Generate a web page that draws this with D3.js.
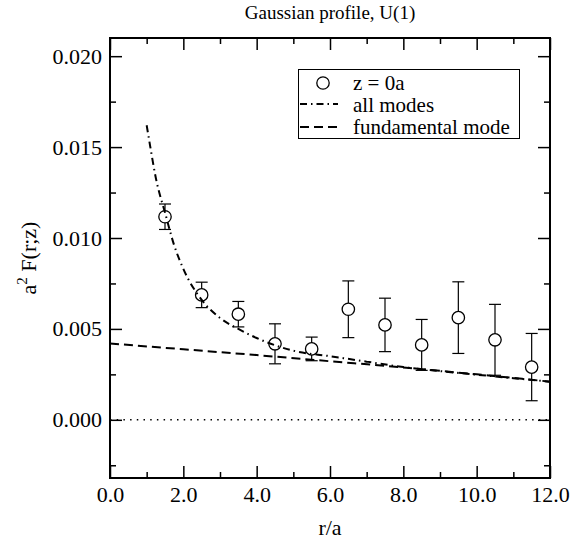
<!DOCTYPE html>
<html>
<head>
<meta charset="utf-8">
<script src="https://cdn.jsdelivr.net/npm/d3@7"></script>
<style>
  body { margin: 0; background: #fff; }
  text { font-family: "Liberation Serif", "Times New Roman", serif; fill: #000; }
</style>
</head>
<body>
<div id="chart"></div>
<script>
// Data
var rValues = [1.5, 2.5, 3.5, 4.5, 5.5, 6.5, 7.5, 8.5, 9.5, 10.5, 11.5];
var fValues = [0.01117, 0.00687, 0.00581, 0.00418, 0.0039, 0.00608, 0.00522, 0.00412, 0.00562, 0.0044, 0.0029];
var fErrors = [0.0007, 0.0007, 0.0007, 0.0011, 0.00065, 0.00156, 0.00147, 0.0014, 0.00197, 0.00195, 0.00185];

// "all modes" curve
var allR = [1.0, 1.1, 1.25, 1.5, 1.75, 2.0, 2.5, 3.0, 3.5, 4.0, 4.5, 5.0, 6.0, 7.0, 8.0, 9.0, 10.0, 11.0, 12.0];
var allF = [0.0162, 0.0150, 0.0133, 0.0114, 0.0096, 0.0083, 0.0066, 0.0056, 0.0050, 0.0045, 0.0041, 0.0038, 0.0035, 0.0032, 0.0029, 0.00268, 0.00248, 0.00229, 0.0021];

// "fundamental mode" curve
var fundR = [0, 2, 4, 6, 8, 10, 12];
var fundF = [0.0042, 0.00388, 0.00356, 0.00322, 0.00288, 0.0025, 0.0021];

var xMajor = [0, 2, 4, 6, 8, 10, 12];
var xMinor = [1, 3, 5, 7, 9, 11];
var yMajor = [0, 0.005, 0.010, 0.015, 0.020];
var yMinor = [-0.0025, 0.0025, 0.0075, 0.0125, 0.0175];

var W = 575, H = 541;
var pLeft = 110, pRight = 550, pTop = 38, pBottom = 478;

var svg = d3.select("#chart")
  .append("svg")
    .attr("width", W)
    .attr("height", H);

var x = d3.scaleLinear().domain([0, 12]).range([pLeft, pRight]);
var y = d3.scaleLinear().domain([-0.0032, 0.021]).range([pBottom, pTop]);

// ticks on all four sides, pointing inward
function tickAxis(axis, vals, size, pos, labels, fmt) {
  var g = svg.append("g")
    .attr("transform", pos)
    .call(axis.tickValues(vals).tickSizeInner(-size).tickSizeOuter(0).tickPadding(8)
      .tickFormat(labels ? d3.format(fmt) : ""));
  g.select(".domain").remove();
  g.selectAll(".tick line").attr("stroke", "#000").attr("stroke-width", 1.5);
  g.selectAll("text").attr("font-size", "22px").attr("font-family", "Liberation Serif, serif");
  return g;
}

tickAxis(d3.axisBottom(x), xMajor, 12, "translate(0," + pBottom + ")", true, ".1f");
tickAxis(d3.axisBottom(x), xMinor, 6, "translate(0," + pBottom + ")", false);
tickAxis(d3.axisTop(x), xMajor, 12, "translate(0," + pTop + ")", false);
tickAxis(d3.axisTop(x), xMinor, 6, "translate(0," + pTop + ")", false);
tickAxis(d3.axisLeft(y), yMajor, 12, "translate(" + pLeft + ",0)", true, ".3f");
tickAxis(d3.axisLeft(y), yMinor, 6, "translate(" + pLeft + ",0)", false);
tickAxis(d3.axisRight(y), yMajor, 12, "translate(" + pRight + ",0)", false);
tickAxis(d3.axisRight(y), yMinor, 6, "translate(" + pRight + ",0)", false);

// frame
svg.append("rect")
  .attr("x", pLeft).attr("y", pTop)
  .attr("width", pRight - pLeft).attr("height", pBottom - pTop)
  .attr("fill", "none")
  .attr("stroke", "#000")
  .attr("stroke-width", 2);

// zero line (dotted)
svg.append("line")
  .attr("x1", x(0)).attr("x2", x(12))
  .attr("y1", y(0)).attr("y2", y(0))
  .attr("stroke", "#000")
  .attr("stroke-width", 1.5)
  .attr("stroke-dasharray", "1.5,5.2");

// error bars
var pts = rValues.map(function(r, i) { return { r: r, f: fValues[i], e: fErrors[i] }; });
var eb = svg.append("g").attr("stroke", "#000").attr("stroke-width", 1.2);
pts.forEach(function(d) {
  eb.append("line").attr("x1", x(d.r)).attr("x2", x(d.r)).attr("y1", y(d.f - d.e)).attr("y2", y(d.f + d.e));
  eb.append("line").attr("x1", x(d.r) - 6).attr("x2", x(d.r) + 6).attr("y1", y(d.f - d.e)).attr("y2", y(d.f - d.e));
  eb.append("line").attr("x1", x(d.r) - 6).attr("x2", x(d.r) + 6).attr("y1", y(d.f + d.e)).attr("y2", y(d.f + d.e));
});

// circles
svg.selectAll("circle.pt")
  .data(pts)
  .enter()
  .append("circle")
    .attr("class", "pt")
    .attr("cx", function(d) { return x(d.r); })
    .attr("cy", function(d) { return y(d.f); })
    .attr("r", 6.2)
    .attr("fill", "#fff")
    .attr("stroke", "#000")
    .attr("stroke-width", 1.3);

// curves
var line = d3.line()
  .x(function(d) { return x(d[0]); })
  .y(function(d) { return y(d[1]); })
  .curve(d3.curveMonotoneX);

svg.append("path")
  .attr("d", line(fundR.map(function(r, i) { return [r, fundF[i]]; })))
  .attr("fill", "none")
  .attr("stroke", "#000")
  .attr("stroke-width", 2)
  .attr("stroke-dasharray", "9,5");

svg.append("path")
  .attr("d", line(allR.map(function(r, i) { return [r, allF[i]]; })))
  .attr("fill", "none")
  .attr("stroke", "#000")
  .attr("stroke-width", 2)
  .attr("stroke-dasharray", "7,4,1.5,4");

// legend
var lg = svg.append("g");
lg.append("rect")
  .attr("x", 298.5).attr("y", 69.5)
  .attr("width", 221).attr("height", 69)
  .attr("fill", "#fff")
  .attr("stroke", "#000")
  .attr("stroke-width", 1);
lg.append("circle")
  .attr("cx", 323).attr("cy", 83).attr("r", 6.2)
  .attr("fill", "#fff").attr("stroke", "#000").attr("stroke-width", 1.3);
lg.append("line")
  .attr("x1", 300).attr("x2", 338).attr("y1", 104).attr("y2", 104)
  .attr("stroke", "#000").attr("stroke-width", 2).attr("stroke-dasharray", "7,4,1.5,4");
lg.append("line")
  .attr("x1", 300).attr("x2", 338).attr("y1", 127).attr("y2", 127)
  .attr("stroke", "#000").attr("stroke-width", 2).attr("stroke-dasharray", "9,5");
var legendLabels = ["z = 0a", "all modes", "fundamental mode"];
lg.selectAll("text")
  .data(legendLabels)
  .enter()
  .append("text")
    .attr("x", 353)
    .attr("y", function(d, i) { return 90 + i * 22; })
    .attr("font-size", "21px")
    .text(function(d) { return d; });

// title
svg.append("text")
  .attr("x", (pLeft + pRight) / 2)
  .attr("y", 19)
  .attr("text-anchor", "middle")
  .attr("font-size", "19px")
  .text("Gaussian profile, U(1)");

// X axis label
svg.append("text")
  .attr("x", (pLeft + pRight) / 2)
  .attr("y", 535)
  .attr("text-anchor", "middle")
  .attr("font-size", "22px")
  .text("r/a");

// Y axis label
var yl = svg.append("text")
  .attr("transform", "translate(36," + ((pTop + pBottom) / 2) + ") rotate(-90)")
  .attr("text-anchor", "middle")
  .attr("font-size", "22px");
yl.append("tspan").text("a");
yl.append("tspan").attr("font-size", "15px").attr("dy", "-9").text("2");
yl.append("tspan").attr("dy", "9").text(" F(r;z)");
</script>
</body>
</html>
